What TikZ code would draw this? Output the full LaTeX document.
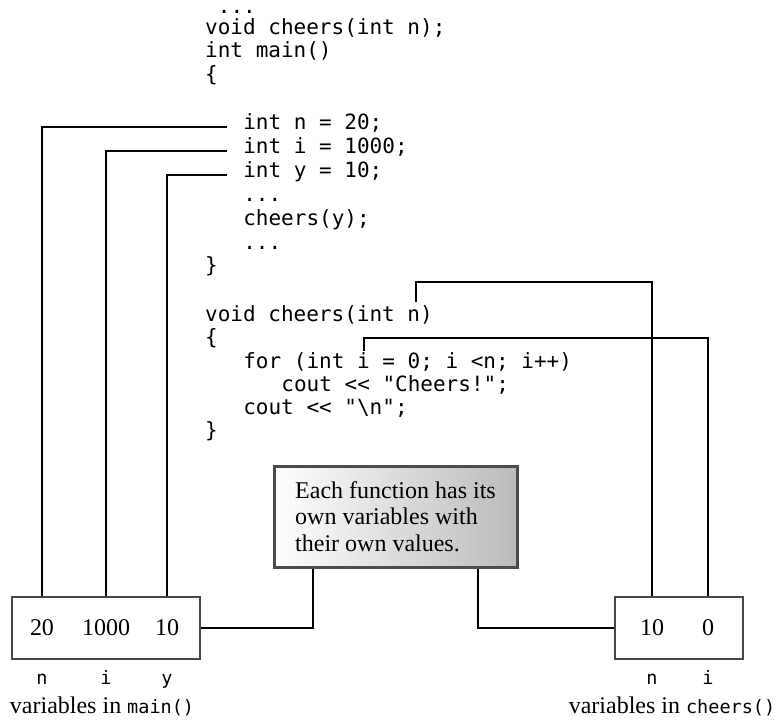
\documentclass[tikz,border=0pt]{standalone}
\usepackage{fontspec}
\setmainfont{Liberation Serif}
\setmonofont{DejaVu Sans Mono}
\begin{document}
\begin{tikzpicture}[x=1pt,y=-1pt,
  code/.style={anchor=mid west, inner sep=0pt, font=\ttfamily\fontsize{21}{24}\selectfont},
  conn/.style={line width=2pt, black},
  valbox/.style={draw=black!72, line width=2.5pt, minimum height=62pt, inner sep=0pt},
  val/.style={font=\fontsize{24}{26}\selectfont, inner sep=0pt},
  varlab/.style={anchor=mid, font=\ttfamily\fontsize{18.5}{20}\selectfont, inner sep=0pt},
  caption/.style={anchor=mid, font=\fontsize{24}{26}\selectfont, inner sep=0pt},
  note/.style={draw=black!70, line width=3pt, left color=white, right color=black!27,
    minimum width=243pt, minimum height=101pt, align=left,
    font=\fontsize{24}{26.5}\selectfont, inner sep=0pt}
]
\useasboundingbox (0,0) rectangle (782,724);

% code lines
\node[code] (l0)  at (217.7,11) {...};
\node[code] (l1)  at (205,32)   {void cheers(int n);};
\node[code] (l2)  at (205,55)   {int main()};
\node[code] (l3)  at (205,79)   {\{};
\node[code] (l5)  at (243.1,127) {int n = 20;};
\node[code] (l6)  at (243.1,151) {int i = 1000;};
\node[code] (l7)  at (243.1,175) {int y = 10;};
\node[code] (l8)  at (243.1,199) {...};
\node[code] (l9)  at (243.1,223) {cheers(y);};
\node[code] (l10) at (243.1,247) {...};
\node[code] (l11) at (205,270)  {\}};
\node[code] (l13) at (205,319)  {void cheers(int n)};
\node[code] (l14) at (205,342)  {\{};
\node[code] (l15) at (243.1,366) {for (int i = 0; i <n; i++)};
\node[code] (l16) at (281.2,389) {cout << "Cheers!";};
\node[code] (l17) at (243.1,412) {cout << "\textbackslash n";};
\node[code] (l18) at (205,435)  {\}};

% boxes of variables
\node[valbox, minimum width=188pt] (mainbox) at (106,628) {};
\node[val] (v20)   at (42,628)  {20};
\node[val] (v1000) at (106,628) {1000};
\node[val] (v10)   at (167,628) {10};

\node[valbox, minimum width=128pt] (cheersbox) at (679,628) {};
\node[val] (c10) at (652,628) {10};
\node[val] (c0)  at (708,628) {0};

% labels
\node[varlab] (ln) at (42,682)  {n};
\node[varlab] (li) at (106,682) {i};
\node[varlab] (ly) at (167,682) {y};
\node[varlab] (rn) at (652,682) {n};
\node[varlab] (ri) at (708,682) {i};
\node[caption] (capmain)   at (102,711) {variables in {\ttfamily\fontsize{18.5}{20}\selectfont main()}};
\node[caption] (capcheers) at (672,711) {variables in {\ttfamily\fontsize{18.5}{20}\selectfont cheers()}};

% note
\node[note] (note) at (395.5,516.5) {Each function has its\\own variables with\\their own values.};

% connectors from main
\draw[conn] (mainbox.north -| v20)   |- ([xshift=-16pt]l5.mid west);
\draw[conn] (mainbox.north -| v1000) |- ([xshift=-16pt]l6.mid west);
\draw[conn] (mainbox.north -| v10)   |- ([xshift=-16pt]l7.mid west);

% connectors from cheers
\coordinate (nfoot) at (416,302);
\coordinate (ifoot) at (364,351);
\draw[conn] (nfoot) -- ++(0,-20) -| (cheersbox.north -| c10);
\draw[conn] (ifoot) -- ++(0,-13) -| (cheersbox.north -| c0);

% connectors to note
\draw[conn] (mainbox.east) -| ([xshift=-82.5pt]note.south);
\draw[conn] (cheersbox.west) -| ([xshift=82.5pt]note.south);
\end{tikzpicture}
\end{document}
